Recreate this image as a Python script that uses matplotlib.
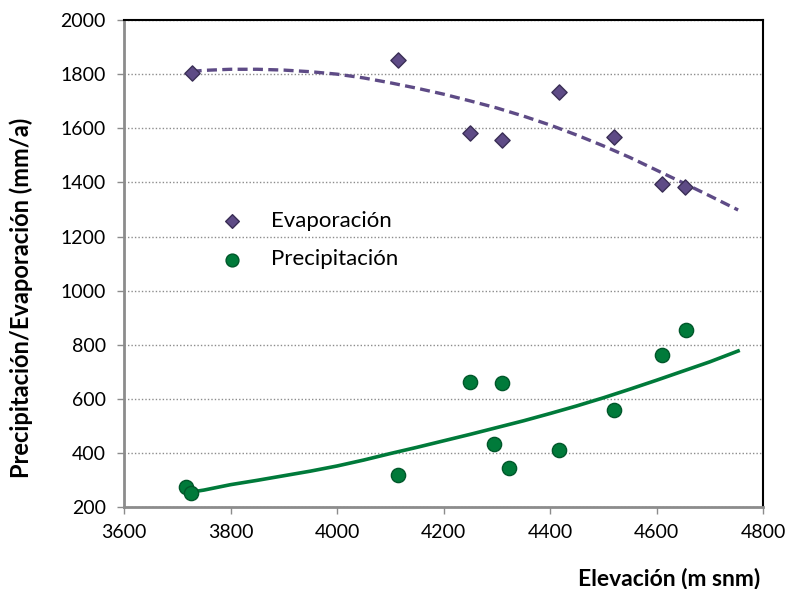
import matplotlib
import matplotlib.pyplot as plt

matplotlib.use('Agg')

plt.rcParams['font.family'] = ['Lato', 'DejaVu Sans']

# puntos medidos
elev_evap = [3727, 4115, 4250, 4310, 4417, 4520, 4610, 4654]
evap = [1805, 1852, 1581, 1556, 1735, 1569, 1393, 1382]

elev_prec = [3717, 3726, 4115, 4250, 4310, 4295, 4322, 4417, 4520, 4610, 4655]
prec = [273, 253, 318, 663, 659, 435, 345, 410, 558, 762, 854]

# lineas de tendencia
tend_x = [3727, 3750, 3800, 3850, 3900, 3950, 4000, 4050, 4100, 4150, 4200,
          4250, 4300, 4350, 4400, 4450, 4500, 4550, 4600, 4650, 4700, 4753]
tend_evap = [1810, 1814, 1818, 1818, 1815, 1809, 1800, 1786, 1768, 1748, 1726,
             1701, 1675, 1645, 1612, 1575, 1535, 1492, 1445, 1398, 1350, 1298]
tend_prec = [256, 263, 283, 299, 316, 333, 352, 374, 398, 421, 445,
             469, 494, 519, 546, 574, 604, 636, 669, 703, 737, 777]

purple = '#5E4B86'
green = '#007A3A'

fig = plt.figure(figsize=(7.9, 5.89), dpi=100)
ax = fig.add_axes([0.157, 0.139, 0.809, 0.827])

ax.plot(tend_x, tend_evap, linestyle=(0, (3, 1.6)), color=purple, linewidth=2.4, zorder=2)
ax.plot(tend_x, tend_prec, linestyle='-', color=green, linewidth=2.6, zorder=2)

ax.scatter(elev_evap, evap, marker='D', s=60, color=purple, edgecolor='#3A2E55',
           linewidth=1, zorder=3, label='Evaporación')
ax.scatter(elev_prec, prec, marker='o', s=105, color=green, edgecolor='#00572A',
           linewidth=1, zorder=3, label='Precipitación')

ax.set_xlim(3600, 4800)
ax.set_ylim(200, 2000)
ax.set_xticks(range(3600, 4801, 200))
ax.set_yticks(range(200, 2001, 200))
ax.yaxis.grid(True, linestyle=(0, (1, 1.5)), color='#8C8C8C', linewidth=1)
ax.set_axisbelow(True)

for s in ['top', 'right']:
    ax.spines[s].set_color('black')
    ax.spines[s].set_linewidth(1.5)
for s in ['left', 'bottom']:
    ax.spines[s].set_color('#8C8C8C')
    ax.spines[s].set_linewidth(2)

ax.tick_params(axis='both', labelsize=14, color='#8C8C8C', length=5, width=1)
ax.tick_params(axis='x', pad=7)
ax.tick_params(axis='y', pad=8)

ax.set_ylabel('Precipitación/Evaporación (mm/a)', fontsize=17, fontweight='bold')
ax.yaxis.set_label_coords(-0.142, 0.429)
ax.set_xlabel('Elevación (m snm)', fontsize=16.5, fontweight='bold',
              ha='right', va='center')
ax.xaxis.set_label_coords(0.995, -0.146)

ax.legend(loc='upper left', bbox_to_anchor=(0.103, 0.65), frameon=False, fontsize=16,
          handletextpad=0.75, labelspacing=0.85, markerscale=0.9)

plt.savefig('out.png', dpi=100)
plt.close()
